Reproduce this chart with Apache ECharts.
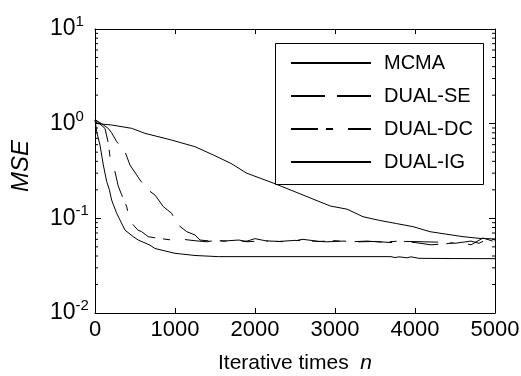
<!DOCTYPE html>
<html>
<head>
<meta charset="utf-8">
<script src="https://cdn.jsdelivr.net/npm/echarts@6/dist/echarts.min.js"></script>
<style>html,body{margin:0;padding:0;background:#fff}#c{width:521px;height:376px}</style>
</head>
<body>
<div id="c"></div>
<script>
// ---- data ----
const seriesNames = ['MCMA', 'DUAL-SE', 'DUAL-DC', 'DUAL-IG'];

const mcmaN   = [0, 30, 208, 458, 625, 958, 1250, 1479, 1700, 1896, 2250, 2700, 2940, 3150, 3350, 3560, 3770, 3975, 4190, 4600, 4800, 5000];
const mcmaMSE = [1.08, 1.0, 0.968, 0.893, 0.79, 0.671, 0.571, 0.467, 0.38, 0.30, 0.232, 0.163, 0.135, 0.125, 0.104, 0.095, 0.088, 0.0817, 0.0722, 0.064, 0.0615, 0.0605];

const seN   = [0, 83, 167, 208, 271, 375, 437, 521, 562, 666, 750, 854, 958, 1041, 1146, 1250, 1312, 1400, 1600, 1800, 1900, 2100, 2300, 2500, 2700, 2900, 3100, 3300, 3500, 3700, 3900, 4100, 4300, 4500, 4700, 4800, 4900, 5000];
const seMSE = [1.1, 1.0, 0.89, 0.80, 0.646, 0.506, 0.366, 0.287, 0.254, 0.199, 0.176, 0.133, 0.113, 0.085, 0.0723, 0.0667, 0.059, 0.058, 0.0575, 0.059, 0.0565, 0.058, 0.057, 0.0585, 0.0575, 0.0565, 0.0575, 0.0565, 0.057, 0.0555, 0.057, 0.0565, 0.056, 0.0545, 0.0575, 0.0545, 0.06, 0.058];

const dcN   = [0, 40, 125, 167, 187, 250, 290, 330, 396, 437, 537, 583, 666, 790, 960, 1100, 1250, 1400, 1500, 1700, 1900, 2000, 2150, 2400, 2600, 2800, 3000, 3200, 3400, 3600, 3800, 4000, 4200, 4400, 4550, 4700, 4850, 5000];
const dcMSE = [1.1, 1.03, 0.89, 0.62, 0.45, 0.31, 0.22, 0.18, 0.133, 0.093, 0.075, 0.0723, 0.064, 0.0615, 0.059, 0.06, 0.058, 0.0565, 0.0585, 0.057, 0.0575, 0.061, 0.0575, 0.0565, 0.06, 0.057, 0.058, 0.0565, 0.0575, 0.056, 0.0575, 0.0555, 0.0525, 0.054, 0.056, 0.0525, 0.062, 0.0565];

const igN   = [0, 21, 62, 104, 146, 180, 208, 271, 375, 479, 541, 688, 750, 1000, 1250, 1540, 2500, 3700, 3750, 3800, 3900, 3950, 4050, 4500, 5000];
const igMSE = [1.1, 0.82, 0.595, 0.366, 0.245, 0.2, 0.156, 0.113, 0.075, 0.064, 0.059, 0.052, 0.048, 0.0427, 0.0405, 0.0394, 0.0394, 0.0394, 0.0385, 0.0392, 0.0383, 0.0392, 0.0378, 0.0376, 0.0375];

const xTicks = [0, 1000, 2000, 3000, 4000, 5000];
const yTickValues = [0.01, 0.1, 1, 10];
const yTickExponents = ['-2', '-1', '0', '1'];
const yMinorTicks = [0.02,0.03,0.04,0.05,0.06,0.07,0.08,0.09,0.2,0.3,0.4,0.5,0.6,0.7,0.8,0.9,2,3,4,5,6,7,8,9];

// ---- chart ----
const FONT = 'Liberation Sans, Arial, sans-serif';
const pair = (xs, ys) => xs.map((x, i) => [x, ys[i]]);
const chart = echarts.init(document.getElementById('c'), null, {renderer: 'canvas'});

function lineSeries(name, xs, ys, dash) {
  return {
    name, type: 'line', data: pair(xs, ys), symbol: 'none', animation: false,
    lineStyle: {color: '#000', width: 1, type: dash},
    itemStyle: {color: '#000'},
    xAxisIndex: 0, yAxisIndex: 0, z: 3
  };
}

const axisLineStyle = {show: true, onZero: false, lineStyle: {color: '#000', width: 1}};

chart.setOption({
  animation: false,
  backgroundColor: '#fff',
  grid: {left: 95, right: 26, top: 29, bottom: 63, containLabel: false, outerBoundsMode: 'none'},
  xAxis: [{
    type: 'value', min: 0, max: 5000, interval: 1000, position: 'bottom',
    axisLine: axisLineStyle,
    axisTick: {show: true, inside: true, length: 5, lineStyle: {color: '#000'}},
    splitLine: {show: false},
    axisLabel: {color: '#000', fontFamily: FONT, fontSize: 22, margin: 6,
      formatter: v => xTicks.indexOf(v) >= 0 ? String(v) : ''},
    name: '{a|Iterative times  }{i|n}', nameLocation: 'middle', nameGap: 40,
    nameTextStyle: {rich: {
      a: {fontFamily: FONT, fontSize: 21, color: '#000'},
      i: {fontFamily: FONT, fontSize: 21, fontStyle: 'italic', color: '#000'}
    }}
  }, {
    type: 'value', min: 0, max: 5000, interval: 1000, position: 'top',
    axisLine: axisLineStyle,
    axisTick: {show: true, inside: true, length: 5, lineStyle: {color: '#000'}},
    splitLine: {show: false}, axisLabel: {show: false}
  }],
  yAxis: [{
    type: 'log', logBase: 10, min: 0.01, max: 10, position: 'left',
    axisLine: axisLineStyle,
    axisTick: {show: true, inside: true, length: 6, lineStyle: {color: '#000'}},
    splitLine: {show: false},
    axisLabel: {
      align: 'left', margin: 45, color: '#000',
      formatter: v => {
        const e = Math.round(Math.log10(v));
        let idx = -1;
        yTickValues.forEach((t, i) => { if (Math.round(Math.log10(t)) === e) idx = i; });
        return idx >= 0 ? '{b|10}{s|' + yTickExponents[idx] + '}' : '';
      },
      rich: {
        b: {fontFamily: FONT, fontSize: 23, lineHeight: 29, color: '#000'},
        s: {fontFamily: FONT, fontSize: 15, lineHeight: 14, verticalAlign: 'top', color: '#000'}
      }
    },
    name: 'MSE', nameLocation: 'middle', nameGap: 62,
    nameTextStyle: {fontFamily: FONT, fontSize: 24, fontStyle: 'italic', color: '#000', padding: [0, 0, 0, 10]}
  }, {
    type: 'log', logBase: 10, min: 0.01, max: 10, position: 'right',
    axisLine: axisLineStyle,
    axisTick: {show: true, inside: true, length: 6, lineStyle: {color: '#000'}},
    splitLine: {show: false}, axisLabel: {show: false}
  }],
  legend: {
    data: seriesNames, orient: 'vertical', left: 275, top: 43,
    padding: [10, 0, 0, 15], itemWidth: 80, itemHeight: 20, itemGap: 13,
    selectedMode: false, z: 20,
    itemStyle: {opacity: 0},
    textStyle: {fontFamily: FONT, fontSize: 20, color: '#000', lineHeight: 20, padding: [0, 0, 0, 8]}
  },
  graphic: [{
    type: 'rect', z: 15, silent: true,
    shape: {x: 275.5, y: 43.5, width: 208, height: 141},
    style: {fill: '#fff', stroke: '#000', lineWidth: 1}
  }],
  series: [
    lineSeries('MCMA', mcmaN, mcmaMSE, 'solid'),
    lineSeries('DUAL-SE', seN, seMSE, [34, 12]),
    lineSeries('DUAL-DC', dcN, dcMSE, [27, 8, 7, 15]),
    lineSeries('DUAL-IG', igN, igMSE, 'solid'),
    {
      type: 'custom', silent: true, animation: false, xAxisIndex: 0, yAxisIndex: 0, z: 5,
      data: yMinorTicks.map(v => [0, v]),
      renderItem: (params, api) => {
        const v = api.value(1);
        const pl = api.coord([0, v]);
        const pr = api.coord([5000, v]);
        return {type: 'group', children: [
          {type: 'line', shape: {x1: pl[0], y1: pl[1], x2: pl[0] + 3, y2: pl[1]}, style: {stroke: '#000', lineWidth: 1}},
          {type: 'line', shape: {x1: pr[0], y1: pr[1], x2: pr[0] - 3, y2: pr[1]}, style: {stroke: '#000', lineWidth: 1}}
        ]};
      }
    }
  ]
});
</script>
</body>
</html>
